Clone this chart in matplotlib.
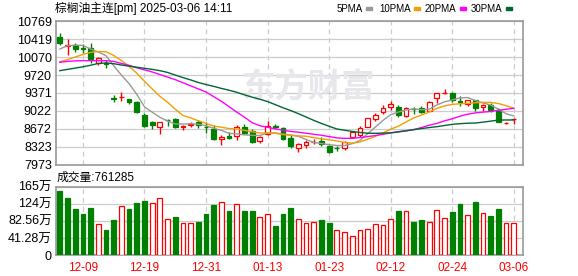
import matplotlib
matplotlib.use("Agg")
import matplotlib.pyplot as plt
from matplotlib.patches import Rectangle

plt.rcParams['font.family'] = ['Liberation Sans', 'Noto Sans CJK SC', 'DejaVu Sans']

# trading days 12-04 .. 03-06, one entry per bar
tick_pos = [3, 11, 19, 27, 35, 43, 51, 59]
tick_lab = ['12-09', '12-19', '12-31', '01-13', '01-23', '02-12', '02-24', '03-06']

opens = [10452, 10284, 10296, 10238, 10238, 9947, 9960, 9270, 9290, 9255,
         9203, 8944, 8814, 8717, 8853, 8860, 8717, 8756, 8814, 8717,
         8665, 8471, 8542, 8542, 8717, 8633, 8446, 8575, 8730, 8698,
         8490, 8297, 8361, 8420, 8446, 8342, 8310, 8297, 8523, 8555,
         8717, 8866, 8995, 9093, 9093, 8931, 9060, 9073, 9028, 9268,
         9371, 9365, 9210, 9158, 9235, 9093, 9138, 9041, 8782, 8860]
highs = [10529, 10413, 10335, 10322, 10335, 10076, 10012, 9332, 9397, 9262,
         9210, 8976, 8827, 8814, 8860, 8879, 8743, 8808, 8847, 8814,
         8750, 8555, 8620, 8750, 8769, 8665, 8536, 8827, 8769, 8717,
         8555, 8407, 8458, 8471, 8510, 8361, 8342, 8446, 8633, 8730,
         8892, 8976, 9138, 9216, 9138, 9093, 9093, 9119, 9216, 9365,
         9442, 9397, 9313, 9235, 9235, 9158, 9171, 9073, 8814, 8879]
lows = [10303, 10109, 10174, 10141, 9960, 9915, 9863, 9203, 9216, 9151,
        8976, 8704, 8672, 8575, 8730, 8685, 8652, 8717, 8685, 8601,
        8458, 8361, 8471, 8458, 8575, 8407, 8407, 8555, 8665, 8458,
        8296, 8232, 8310, 8381, 8342, 8212, 8251, 8264, 8491, 8523,
        8717, 8834, 8963, 9041, 8911, 8911, 8963, 8989, 9028, 9183,
        9345, 9203, 9119, 9119, 9028, 9028, 9009, 8802, 8769, 8769]
closes = [10348, 10303, 10232, 10219, 10025, 10057, 9940, 9264, 9303, 9203,
          9009, 8730, 8750, 8801, 8847, 8717, 8730, 8775, 8750, 8704,
          8471, 8523, 8490, 8704, 8601, 8426, 8510, 8730, 8717, 8478,
          8342, 8381, 8426, 8426, 8374, 8232, 8297, 8426, 8607, 8685,
          8879, 8944, 9086, 9158, 8944, 9073, 9054, 9009, 9196, 9365,
          9378, 9235, 9203, 9235, 9073, 9138, 9041, 8802, 8782, 8866]

ma5 = [10225, 10290, 10300, 10295, 10225, 10167, 10095, 9901, 9718, 9553,
       9344, 9102, 8999, 8899, 8827, 8769, 8769, 8774, 8764, 8735,
       8686, 8645, 8588, 8578, 8558, 8549, 8546, 8594, 8597, 8572,
       8555, 8530, 8469, 8411, 8390, 8368, 8351, 8351, 8387, 8449,
       8579, 8708, 8840, 8950, 9002, 9041, 9063, 9048, 9055, 9139,
       9200, 9237, 9275, 9283, 9225, 9177, 9138, 9058, 8967, 8926]
ma10 = [9979, 10020, 10070, 10120, 10160, 10175, 10173, 10100, 10000, 9889,
        9756, 9598, 9450, 9308, 9190, 9056, 8935, 8887, 8831, 8781,
        8728, 8707, 8681, 8671, 8647, 8617, 8595, 8591, 8588, 8565,
        8552, 8538, 8532, 8504, 8481, 8462, 8440, 8410, 8399, 8420,
        8473, 8530, 8596, 8669, 8726, 8810, 8886, 8944, 9003, 9071,
        9121, 9150, 9162, 9169, 9182, 9189, 9187, 9167, 9125, 9075]
ma20 = [9967, 9985, 9995, 9998, 9998, 9998, 9998, 9985, 9945, 9908,
        9860, 9820, 9780, 9730, 9680, 9630, 9570, 9510, 9450, 9390,
        9300, 9210, 9105, 9000, 8900, 8795, 8735, 8705, 8675, 8650,
        8625, 8610, 8590, 8570, 8550, 8525, 8500, 8491, 8491, 8505,
        8525, 8545, 8570, 8595, 8620, 8640, 8660, 8700, 8745, 8780,
        8830, 8870, 8920, 8960, 8985, 9000, 9012, 9035, 9055, 9073]
ma30 = [9804, 9830, 9855, 9880, 9910, 9945, 9955, 9940, 9915, 9892,
        9872, 9850, 9830, 9805, 9770, 9720, 9670, 9625, 9575, 9535,
        9500, 9460, 9425, 9385, 9335, 9290, 9250, 9205, 9145, 9085,
        9030, 8970, 8905, 8840, 8780, 8725, 8672, 8648, 8625, 8605,
        8590, 8588, 8592, 8598, 8615, 8635, 8660, 8680, 8700, 8717,
        8740, 8762, 8775, 8784, 8788, 8805, 8825, 8845, 8847, 8847]

# volume in 万, and whether the volume bar is drawn red (up)
volume = [154.5, 138.4, 111.9, 99.0, 114.3, 74.9, 60.4, 84.5, 118.3, 111.9,
          125.6, 130.4, 125.6, 137.6, 86.9, 91.8, 77.3, 77.3, 79.7, 99.0,
          120.7, 128.0, 106.2, 123.1, 106.2, 106.2, 91.8, 99.0, 70.0, 99.0,
          113.5, 86.9, 77.3, 79.7, 84.5, 77.3, 60.4, 55.5, 45.9, 60.4,
          62.8, 74.9, 72.4, 86.9, 106.2, 106.2, 79.7, 84.5, 79.7, 108.7,
          89.3, 103.8, 123.1, 96.6, 128.0, 101.4, 94.2, 111.1, 77.3, 76.1]
vol_up = [0, 0, 0, 0, 0, 1, 0, 0, 1, 0,
          0, 0, 1, 1, 1, 0, 1, 1, 0, 0,
          0, 1, 0, 1, 0, 0, 1, 1, 0, 0,
          0, 1, 1, 1, 0, 0, 1, 1, 1, 1,
          1, 1, 1, 1, 0, 1, 0, 0, 1, 1,
          1, 0, 0, 1, 0, 1, 0, 0, 1, 1]

ma_names = ['5PMA', '10PMA', '20PMA', '30PMA']
ma_colors = ['#999999', '#f0a000', '#ff00ff', '#006633']
price_ticks = [7973, 8323, 8672, 9022, 9371, 9720, 10070, 10419, 10769]
vol_ticks = [0, 41.28, 82.56, 123.84, 165]
vol_labels = ['0', '41.28万', '82.56万', '124万', '165万']

RED = '#ff0000'
GREEN = '#008000'
W, H = 578, 276

fig = plt.figure(figsize=(W / 100, H / 100), dpi=100)
ax = fig.add_axes([56 / W, 1 - 165 / H, 467 / W, 144 / H])
axv = fig.add_axes([56 / W, 1 - 255 / H, 467 / W, 68.3 / H])

n = len(closes)
xs = list(range(n))

for a in (ax, axv):
    a.set_xlim(-0.5, 60.2)
    for s in a.spines.values():
        s.set_color('#999999')
        s.set_linewidth(1.2)
    for p in tick_pos:
        a.axvline(p, color='#cccccc', lw=0.9, ls=(0, (4, 3)), zorder=0)
    a.tick_params(length=0, labelsize=9, pad=3)

# price panel
ax.set_ylim(7973, 10769)
ax.set_yticks(price_ticks)
ax.set_yticklabels([str(t) for t in price_ticks])
for t in price_ticks:
    ax.axhline(t, color='#cccccc', lw=0.9, zorder=0)
ax.set_xticks([])

# watermark, behind the candles
ax.text(308 / W, 1 - 88 / H, '东方财富', transform=fig.transFigure,
        ha='center', va='center', fontsize=24, fontweight='bold',
        color='#e6e6eb', family=['Noto Sans CJK SC'], zorder=1)

for i in xs:
    up = closes[i] >= opens[i]
    c = RED if up else GREEN
    ax.vlines(i, lows[i], highs[i], color=c, lw=1, zorder=2)
    ax.bar(i, abs(closes[i] - opens[i]), bottom=min(opens[i], closes[i]),
           width=0.62, facecolor='white' if up else GREEN, edgecolor=c,
           lw=0.9, zorder=3)

for vals, col in zip([ma5, ma10, ma20, ma30], ma_colors):
    ax.plot(xs, vals, color=col, lw=1, zorder=4)

# volume panel
axv.set_ylim(0, 165)
axv.set_yticks(vol_ticks)
axv.set_yticklabels(vol_labels)
for t in vol_ticks:
    axv.axhline(t, color='#cccccc', lw=0.9, zorder=0)
for i in xs:
    c = RED if vol_up[i] else GREEN
    axv.bar(i, volume[i], width=0.62, facecolor='white' if vol_up[i] else GREEN,
            edgecolor=c, lw=0.9, zorder=3)
axv.set_xticks(tick_pos)
axv.set_xticklabels(tick_lab, color=RED, fontsize=8.5)
axv.tick_params(axis='x', pad=5)

# texts
fig.text(55 / W, 1 - 8 / H, '棕榈油主连[pm] 2025-03-06 14:11', ha='left', va='center',
         fontsize=8.5)
fig.text(57 / W, 1 - 177.5 / H, '成交量:761285', ha='left', va='center', fontsize=8.5)

lx = [337, 379, 425, 471]
mx = [366, 414, 460, 506]
for name, col, x0, m0 in zip(ma_names, ma_colors, lx, mx):
    fig.text(x0 / W, 1 - 8.5 / H, name, ha='left', va='center', fontsize=7)
    fig.patches.append(Rectangle((m0 / W, 1 - 10 / H), 6 / W, 3 / H,
                                 transform=fig.transFigure, color=col))

fig.savefig('out.png', dpi=100)
